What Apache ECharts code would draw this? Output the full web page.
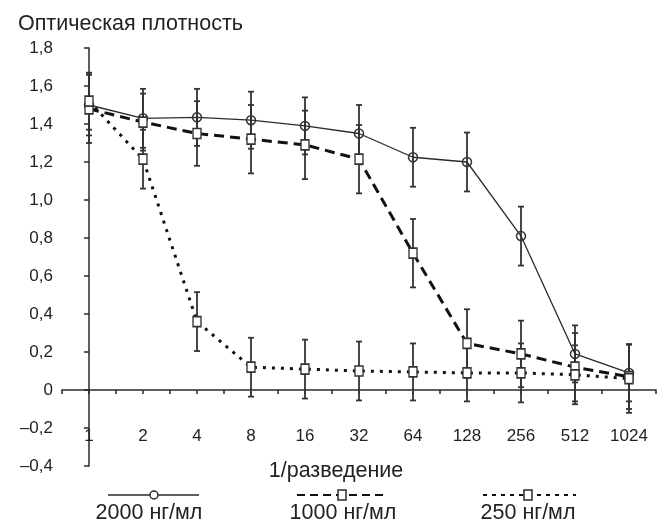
<!DOCTYPE html>
<html lang="ru">
<head>
<meta charset="UTF-8">
<title>Оптическая плотность</title>
<script src="https://cdn.jsdelivr.net/npm/echarts@6/dist/echarts.min.js"></script>
<style>html,body{margin:0;padding:0;background:#fff}</style>
</head>
<body>
<div id="main" style="width:664px;height:523px;"></div>
<script type="text/javascript">
// 1/разведение
var dilutions = ['1', '2', '4', '8', '16', '32', '64', '128', '256', '512', '1024'];

// оптическая плотность и полуширина планок погрешности
var od2000 = [1.50, 1.43, 1.435, 1.42, 1.39, 1.35, 1.225, 1.20, 0.81, 0.19, 0.09];
var err2000 = [0.16, 0.155, 0.15, 0.15, 0.15, 0.15, 0.155, 0.155, 0.155, 0.15, 0.15];
var od1000 = [1.48, 1.41, 1.35, 1.32, 1.29, 1.215, 0.72, 0.245, 0.19, 0.12, 0.07];
var err1000 = [0.18, 0.15, 0.17, 0.18, 0.18, 0.18, 0.18, 0.18, 0.175, 0.18, 0.17];
var od250 = [1.52, 1.215, 0.36, 0.12, 0.11, 0.10, 0.095, 0.09, 0.09, 0.08, 0.06];
var err250 = [0.15, 0.155, 0.155, 0.155, 0.155, 0.155, 0.15, 0.15, 0.155, 0.155, 0.18];

var seriesNames = ['2000 нг/мл', '1000 нг/мл', '250 нг/мл'];

var ink = '#2a2a2a';
var font = 'Liberation Sans, Arial, Helvetica, sans-serif';
var bigFont = '21.5px ' + font;

function points(vals) {
    return vals.map(function (v, i) { return [i, v]; });
}
function bars(vals, errs) {
    return vals.map(function (v, i) { return [i, v - errs[i], v + errs[i]]; });
}

function renderBar(params, api) {
    var x = api.value(0);
    var lo = api.coord([x, api.value(1)]);
    var hi = api.coord([x, api.value(2)]);
    var w = 3;
    var st = { stroke: '#333', lineWidth: 1.8 };
    return {
        type: 'group',
        children: [
            { type: 'line', shape: { x1: lo[0], y1: lo[1], x2: hi[0], y2: hi[1] }, style: st },
            { type: 'line', shape: { x1: lo[0] - w, y1: lo[1], x2: lo[0] + w, y2: lo[1] }, style: st },
            { type: 'line', shape: { x1: hi[0] - w, y1: hi[1], x2: hi[0] + w, y2: hi[1] }, style: st }
        ]
    };
}

function barSeries(vals, errs) {
    return {
        type: 'custom',
        renderItem: renderBar,
        encode: { x: 0, y: [1, 2] },
        data: bars(vals, errs),
        z: 1,
        silent: true
    };
}

var myChart = echarts.init(document.getElementById('main'));

var option = {
    animation: false,
    backgroundColor: '#fff',
    grid: { left: 62, right: 8, top: 48, bottom: 57 },
    xAxis: {
        type: 'value',
        min: -0.5,
        max: 10.5,
        interval: 0.5,
        splitLine: { show: false },
        axisLine: { onZero: true, lineStyle: { color: ink, width: 1.5 } },
        axisTick: { show: true, length: 4, lineStyle: { color: ink, width: 1.5 } },
        axisLabel: {
            margin: -38,
            color: '#222',
            fontSize: 17,
            fontFamily: font,
            showMinLabel: true,
            showMaxLabel: true,
            formatter: function (v) {
                var k = Math.round(v);
                return Math.abs(v - k) < 1e-6 ? dilutions[k] : '';
            }
        }
    },
    yAxis: {
        type: 'value',
        min: -0.4,
        max: 1.8,
        interval: 0.2,
        splitLine: { show: false },
        axisLine: { show: true, lineStyle: { color: ink, width: 1.5 } },
        axisTick: { show: true, length: 5, lineStyle: { color: ink, width: 1.5 } },
        axisLabel: {
            margin: 9,
            color: '#222',
            fontSize: 17,
            fontFamily: font,
            formatter: function (v) {
                if (Math.abs(v) < 1e-9) return '0';
                return v.toFixed(1).replace('.', ',').replace('-', '–');
            }
        }
    },
    series: [
        barSeries(od2000, err2000),
        barSeries(od1000, err1000),
        barSeries(od250, err250),
        {
            name: seriesNames[0],
            type: 'line',
            data: points(od2000),
            symbol: 'circle',
            symbolSize: 9,
            lineStyle: { color: ink, width: 1.3 },
            itemStyle: { color: 'rgba(255,255,255,0)', borderColor: '#333', borderWidth: 1.5 },
            z: 3
        },
        {
            name: seriesNames[1],
            type: 'line',
            data: points(od1000),
            symbol: 'rect',
            symbolSize: [8, 10],
            lineStyle: { color: '#111', width: 3, type: [10, 6] },
            itemStyle: { color: '#fff', borderColor: '#333', borderWidth: 1.5 },
            z: 4
        },
        {
            name: seriesNames[2],
            type: 'line',
            data: points(od250),
            symbol: 'rect',
            symbolSize: [8, 10],
            lineStyle: { color: '#111', width: 3, type: [3, 6] },
            itemStyle: { color: '#fff', borderColor: '#333', borderWidth: 1.5 },
            z: 5
        }
    ],
    graphic: [
        { type: 'text', left: 18, top: 13, style: { text: 'Оптическая плотность', fill: '#222', font: bigFont } },
        { type: 'text', x: 336, y: 471, style: { text: '1/разведение', fill: '#222', font: bigFont, align: 'center', verticalAlign: 'middle' } },

        // легенда
        { type: 'line', shape: { x1: 108, y1: 495, x2: 199, y2: 495 }, style: { stroke: ink, lineWidth: 1.5 } },
        { type: 'circle', shape: { cx: 154, cy: 495, r: 4 }, style: { fill: '#fff', stroke: ink, lineWidth: 1.5 } },
        { type: 'text', x: 149, y: 513, style: { text: seriesNames[0], fill: '#222', font: bigFont, align: 'center', verticalAlign: 'middle' } },

        { type: 'line', shape: { x1: 297, y1: 495, x2: 387, y2: 495 }, style: { stroke: '#111', lineWidth: 2, lineDash: [8, 5] } },
        { type: 'rect', shape: { x: 338, y: 490, width: 8, height: 10 }, style: { fill: '#fff', stroke: ink, lineWidth: 1.5 } },
        { type: 'text', x: 343, y: 513, style: { text: seriesNames[1], fill: '#222', font: bigFont, align: 'center', verticalAlign: 'middle' } },

        { type: 'line', shape: { x1: 483, y1: 495, x2: 576, y2: 495 }, style: { stroke: '#111', lineWidth: 2, lineDash: [4, 5] } },
        { type: 'rect', shape: { x: 524, y: 490, width: 8, height: 10 }, style: { fill: '#fff', stroke: ink, lineWidth: 1.5 } },
        { type: 'text', x: 528, y: 513, style: { text: seriesNames[2], fill: '#222', font: bigFont, align: 'center', verticalAlign: 'middle' } }
    ]
};

myChart.setOption(option);
</script>
</body>
</html>
